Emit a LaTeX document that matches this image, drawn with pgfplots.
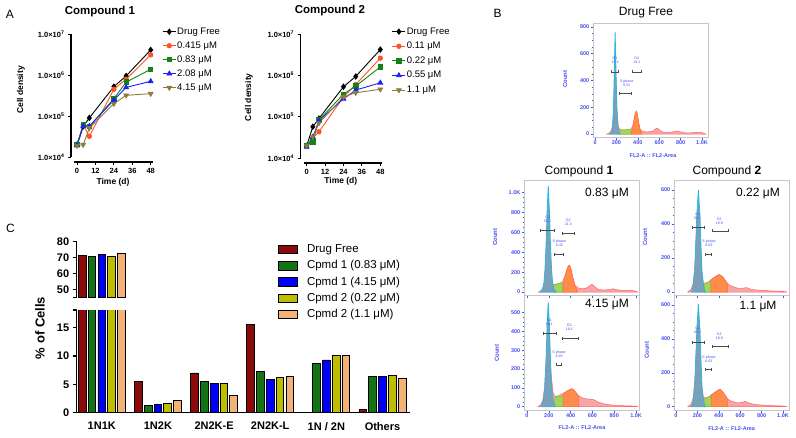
\documentclass[border=0pt]{standalone}
\usepackage{fontspec}
\setmainfont{Liberation Sans}
\usepackage{pgfplots}
\pgfplotsset{compat=1.18}
\usetikzlibrary{arrows.meta}
\definecolor{cA1}{RGB}{250,85,40}
\definecolor{cA2}{RGB}{20,130,20}
\definecolor{cA3}{RGB}{30,30,255}
\definecolor{cA4}{RGB}{140,125,60}
\definecolor{cDF}{RGB}{140,10,10}
\definecolor{cG}{RGB}{20,115,20}
\definecolor{cB}{RGB}{0,0,255}
\definecolor{cY}{RGB}{190,190,0}
\definecolor{cP}{RGB}{245,178,120}
\definecolor{flowblue}{RGB}{70,80,240}
\definecolor{hred}{RGB}{248,165,165}
\definecolor{hredl}{RGB}{255,100,100}
\definecolor{hgreen}{RGB}{160,215,90}
\definecolor{hgreenl}{RGB}{110,195,60}
\definecolor{horange}{RGB}{255,140,75}
\definecolor{horangel}{RGB}{255,110,50}
\definecolor{hgone}{RGB}{125,160,185}
\definecolor{hgonel}{RGB}{40,185,225}
\tikzset{
 hR/.style={fill=hred, draw=hredl, line width=0.5pt},
 hS/.style={fill=hgreen, draw=hgreenl, line width=0.5pt},
 hO/.style={fill=horange, draw=horangel, line width=0.5pt},
 hG/.style={fill=hgone, draw=hgonel, line width=0.8pt},
 gate/.style={draw=black!70, line width=0.6pt, arrows={Bar[width=3pt]-Bar[width=3pt]}},
 glab/.style={font=\fontsize{3.6}{4}\selectfont, text=flowblue, align=center, inner sep=0.3pt},
 blab/.style={font=\fontsize{12}{13}\selectfont},
 clab/.style={rotate=90, font=\fontsize{6}{7}\selectfont\bfseries, text=flowblue},
 xlab/.style={font=\fontsize{5.5}{6}\selectfont\bfseries, text=flowblue},
}
\pgfplotsset{
 /pgf/number format/assume math mode=true,
 flow/.style={scale only axis, width=115pt, axis line style={draw=gray!45, line width=0.7pt},
  tick align=outside, tick pos=left, major tick length=2.5pt, minor tick length=1.3pt,
  tick style={flowblue, line width=0.6pt},
  ticklabel style={font=\fontsize{5.5}{6}\selectfont\bfseries, text=flowblue, inner sep=1pt},
  xtick={0,200,400,600,800,1000}, xticklabels={0,200,400,600,800,1.0K},
  minor x tick num=3, minor y tick num=3},
 growth/.style={scale only axis, width=78.7pt,
  xmin=-2, xmax=49.3, ymin=1e4, ymax=1e7,
  axis lines*=left, axis x line shift=5pt, axis y line shift=3pt,
  axis line style={line width=1.1pt}, tick align=outside, major tick length=3pt,
  tick style={black, line width=1pt}, minor tick style={draw=none},
  xtick={0,12,24,36,48}, xticklabels={0,12,24,36,48},
  ytick={1e4,1e5,1e6,1e7},
  yticklabels={{1.0×10\textsuperscript{4}},{1.0×10\textsuperscript{5}},{1.0×10\textsuperscript{6}},{1.0×10\textsuperscript{7}}},
  ticklabel style={font=\fontsize{7.5}{8}\selectfont\bfseries},
  title style={anchor=center, font=\fontsize{11.5}{12}\selectfont\bfseries},
  xlabel style={anchor=center, font=\fontsize{8.5}{9}\selectfont\bfseries},
  ylabel style={anchor=center, font=\fontsize{8.5}{9}\selectfont\bfseries},
  legend style={at={(axis description cs:1.12,1.065)}, anchor=north west, draw=none, fill=none,
   font=\fontsize{9.5}{10}\selectfont, row sep=3pt, inner sep=0pt,
   nodes={inner sep=1pt, text height=7pt, text depth=2pt}},
  legend cell align=left,
  clip=false},
 bars/.style={scale only axis, width=333.3pt, xmin=-0.447, xmax=5.49,
  axis line style={line width=1.2pt}, tick align=outside, major tick length=4pt,
  tick style={black,line width=1.1pt},
  ticklabel style={font=\fontsize{11}{12}\selectfont\bfseries},
  ybar=2.1pt, bar width=7.7pt},
}
\begin{document}
\begin{tikzpicture}
\path[use as bounding box] (0,0) rectangle (796pt,-437pt);

% ---------------- Panel A ----------------
\node[blab] at (10pt,-14pt) {A};
\begin{axis}[ymode=log, growth, at={(74pt,-157pt)}, anchor=south west, height=123pt,
 title={Compound 1}, title style={at={(axis description cs:0.33,1.138)}},
 xlabel={Time (d)}, xlabel style={at={(axis description cs:0.496,-0.203)}},
 ylabel={Cell density}, ylabel style={at={(axis description cs:-0.673,0.545)}},
 legend image code/.code={\draw[mark repeat=2,mark phase=2,#1] plot coordinates {(0pt,0pt) (6.5pt,0pt) (13pt,0pt)};}]
\addplot[black, line width=0.9pt, mark=diamond*, mark size=2.6pt] coordinates {(0,2e4)(4,5.6e4)(8,9e4)(24,5.2e5)(32,9.5e5)(48,4.1e6)};
\addplot[cA1, line width=0.9pt, mark=*, mark size=2.2pt] coordinates {(0,2e4)(4,6e4)(8,3.2e4)(24,4.5e5)(32,7.9e5)(48,3.1e6)};
\addplot[cA2, line width=0.9pt, mark=square*, mark size=2.2pt] coordinates {(0,2e4)(4,6.2e4)(8,5.6e4)(24,2.65e5)(32,6.7e5)(48,1.38e6)};
\addplot[cA3, line width=0.9pt, mark=triangle*, mark size=2.6pt] coordinates {(0,1.9e4)(4,5.6e4)(8,5.6e4)(24,2.45e5)(32,5e5)(48,7e5)};
\addplot[cA4, line width=0.9pt, mark=triangle*, mark size=2.6pt, mark options={rotate=180}] coordinates {(0,1.9e4)(4,2e4)(8,5.1e4)(24,2e5)(32,3.2e5)(48,3.5e5)};
\legend{Drug Free,0.415 μM,0.83 μM,2.08 μM,4.15 μM}
\end{axis}

\begin{axis}[ymode=log, growth, at={(303.6pt,-158pt)}, anchor=south west, height=124pt,
 title={Compound 2}, title style={at={(axis description cs:0.335,1.145)}},
 xlabel={Time (d)}, xlabel style={at={(axis description cs:0.473,-0.191)}},
 ylabel={Cell density}, ylabel style={at={(axis description cs:-0.694,0.49)}},
 legend style={row sep=3.6pt},
 legend image code/.code={\draw[mark repeat=2,mark phase=2,#1] plot coordinates {(0pt,0pt) (6.5pt,0pt) (13pt,0pt)};}]
\addplot[black, line width=0.9pt, mark=diamond*, mark size=2.6pt] coordinates {(0,1.96e4)(4,5.7e4)(8,9e4)(24,5.3e5)(32,9.4e5)(48,4.2e6)};
\addplot[cA1, line width=0.9pt, mark=*, mark size=2.2pt] coordinates {(0,2e4)(4,3e4)(8,4.3e4)(24,3e5)(32,6e5)(48,2.6e6)};
\addplot[cA2, line width=0.9pt, mark=square*, mark size=2.2pt] coordinates {(0,2e4)(4,2.45e4)(8,8.3e4)(24,3.5e5)(32,5.5e5)(48,1.6e6)};
\addplot[cA3, line width=0.9pt, mark=triangle*, mark size=2.6pt] coordinates {(0,1.85e4)(4,3.2e4)(8,8e4)(24,2.7e5)(32,4.4e5)(48,6.6e5)};
\addplot[cA4, line width=0.9pt, mark=triangle*, mark size=2.6pt, mark options={rotate=180}] coordinates {(0,2e4)(4,3.3e4)(8,7e4)(24,3e5)(32,3.8e5)(48,4.6e5)};
\legend{Drug Free,0.11 μM,0.22 μM,0.55 μM,1.1 μM}
\end{axis}

% ---------------- Panel C ----------------
\node[blab] at (10.5pt,-228pt) {C};
\begin{axis}[bars, at={(76.7pt,-297.7pt)}, anchor=south west, height=56pt,
 ymin=44.7, ymax=80, axis x line=none, axis y line*=left,
 ytick={50,60,70,80}, yticklabels={50,60,70,80}, extra y ticks={44.7}, extra y tick labels={},
 xtick=\empty]
\addplot[fill=cDF, draw=black, line width=0.8pt] coordinates {(0,71.5)};
\addplot[fill=cG, draw=black, line width=0.8pt] coordinates {(0,71.0)};
\addplot[fill=cB, draw=black, line width=0.8pt] coordinates {(0,71.8)};
\addplot[fill=cY, draw=black, line width=0.8pt] coordinates {(0,70.6)};
\addplot[fill=cP, draw=black, line width=0.8pt] coordinates {(0,72.7)};
\end{axis}
\begin{axis}[bars, at={(76.7pt,-412.7pt)}, anchor=south west, height=102.7pt,
 ymin=0, ymax=18.1, axis lines*=left,
 ytick={0,5,10,15}, yticklabels={0,5,10,15}, extra y ticks={18.1}, extra y tick labels={},
 xtick={0,1,2,3,4,5}, xticklabels={1N1K,1N2K,2N2K-E,2N2K-L,1N / 2N,Others},
 xtick style={draw=none}, xticklabel style={yshift=-2pt},
 ylabel={\% of Cells}, ylabel style={at={(axis description cs:-0.110,0.825)}, anchor=center, font=\fontsize{13}{14}\selectfont\bfseries},
 legend style={at={(axis description cs:0.604,1.655)}, anchor=north west, draw=none, fill=none,
   font=\fontsize{11.5}{12}\selectfont, row sep=3.3pt, inner sep=0pt,
   nodes={inner sep=1pt, text height=8.5pt, text depth=2.5pt},
   /tikz/every odd column/.append style={column sep=8pt}},
 legend cell align=left,
 legend image code/.code={\draw[#1,line width=0.8pt] (0pt,-4.2pt) rectangle (19pt,4.2pt);}]
\addplot[fill=cDF, draw=black, line width=0.8pt] coordinates {(0,71.5)(1,5.5)(2,7.0)(3,15.5)(4,0)(5,0.6)};
\addplot[fill=cG, draw=black, line width=0.8pt] coordinates {(0,71.0)(1,1.3)(2,5.5)(3,7.2)(4,8.7)(5,6.4)};
\addplot[fill=cB, draw=black, line width=0.8pt] coordinates {(0,71.8)(1,1.4)(2,5.2)(3,5.9)(4,9.3)(5,6.4)};
\addplot[fill=cY, draw=black, line width=0.8pt] coordinates {(0,70.6)(1,1.6)(2,5.2)(3,6.2)(4,10.1)(5,6.6)};
\addplot[fill=cP, draw=black, line width=0.8pt] coordinates {(0,72.7)(1,2.2)(2,3.0)(3,6.35)(4,10.1)(5,6.0)};
\legend{Drug Free,Cpmd 1 (0.83 μM),Cpmd 1 (4.15 μM),Cpmd 2 (0.22 μM),Cpmd 2 (1.1 μM)}
\end{axis}

% ---------------- Panel B ----------------
\node[blab] at (497.5pt,-13.7pt) {B};
\node[blab] at (646pt,-13pt) {Drug Free};
\node[blab] at (579pt,-171pt) {Compound \textbf{1}};
\node[blab] at (727pt,-171pt) {Compound \textbf{2}};
\node[blab] at (607pt,-193pt) {0.83 μM};
\node[blab] at (607pt,-305pt) {4.15 μM};
\node[blab] at (758pt,-193pt) {0.22 μM};
\node[blab] at (758pt,-307pt) {1.1 μM};
\node[clab] at (565pt,-79pt) {Count};
\node[clab] at (495pt,-237pt) {Count};
\node[clab] at (496.7pt,-353pt) {Count};
\node[clab] at (645pt,-237pt) {Count};
\node[clab] at (646.7pt,-350pt) {Count};
\node[xlab] at (653pt,-156pt) {FL2-A :: FL2-Area};
\node[xlab] at (582pt,-428pt) {FL2-A :: FL2-Area};
\node[xlab] at (731.7pt,-428.3pt) {FL2-A :: FL2-Area};

% Drug free
\begin{axis}[flow, at={(593pt,-137pt)}, anchor=south west, height=114pt,
 xmin=-19, xmax=1056, ymin=-22, ymax=830, ytick={0,200,400,600,800}, yticklabels={0,200,400,600,800}]
\addplot[hR] coordinates {(110,0)(135,8)(150,25)(162,55)(172,150)(180,350)(188,560)(196,420)(206,180)(218,60)(232,35)(260,30)(300,31)(335,36)(352,60)(365,110)(376,155)(386,170)(396,150)(408,85)(422,35)(445,20)(480,16)(520,18)(545,24)(565,38)(580,45)(595,36)(615,20)(650,12)(700,12)(740,18)(765,22)(790,18)(830,10)(880,8)(920,11)(955,14)(990,12)(1020,5)(1035,0)} \closedcycle;
\addplot[hS] coordinates {(232,0)(234,28)(260,31)(300,33)(335,38)(345,0)} \closedcycle;
\addplot[hO] coordinates {(335,0)(345,20)(355,50)(366,105)(376,155)(386,172)(396,150)(406,95)(416,50)(428,20)(440,0)} \closedcycle;
\addplot[hG] coordinates {(140,0)(155,15)(165,70)(172,180)(178,380)(183,580)(188,760)(193,580)(198,380)(204,180)(211,70)(221,15)(236,0)} \closedcycle;
\addplot[gate] coordinates {(150,465)(224,465)};
\addplot[gate] coordinates {(343,465)(436,465)};
\addplot[gate] coordinates {(224,304)(346,304)};
\node[glab] at (axis cs:187,548) {G1\\47.3};
\node[glab] at (axis cs:390,548) {G2\\19.1};
\node[glab, fill=white] at (axis cs:296,380) {S phase\\9.21};
\end{axis}

% Compound 1, 0.83
\begin{axis}[flow, at={(524pt,-295pt)}, anchor=south west, height=115pt,
 xmin=-27.5, xmax=1027, ymin=-30, ymax=1128, xticklabels={},
 ytick={0,200,400,600,800,1000}, yticklabels={0,200,400,600,800,1.0K}]
\addplot[hR] coordinates {(105,0)(130,15)(150,50)(165,150)(180,450)(195,700)(210,450)(225,150)(240,75)(270,80)(300,85)(330,110)(350,170)(370,240)(388,270)(405,230)(420,150)(440,70)(470,40)(510,32)(545,40)(575,65)(595,78)(615,60)(650,28)(700,20)(750,25)(790,32)(830,22)(880,15)(930,18)(970,14)(1000,8)(1015,0)} \closedcycle;
\addplot[hS] coordinates {(240,0)(242,65)(260,75)(280,85)(300,85)(320,90)(330,0)} \closedcycle;
\addplot[hO] coordinates {(330,0)(335,90)(350,160)(365,225)(378,260)(388,270)(400,245)(412,180)(425,110)(440,60)(455,25)(465,0)} \closedcycle;
\addplot[hG] coordinates {(120,0)(140,20)(155,90)(165,230)(175,480)(185,830)(195,1070)(205,830)(215,480)(225,230)(235,90)(250,20)(270,0)} \closedcycle;
\addplot[gate] coordinates {(119,621)(257,621)};
\addplot[gate] coordinates {(318,594)(440,594)};
\addplot[gate] coordinates {(248,380)(333,380)};
\node[glab] at (axis cs:190,736) {G1\\53.2};
\node[glab] at (axis cs:379,705) {G2\\21.3};
\node[glab, fill=white] at (axis cs:296,488) {S phase\\6.42};
\end{axis}

% Compound 1, 4.15
\begin{axis}[flow, at={(524pt,-410pt)}, anchor=south west, height=115pt,
 xmin=-27.5, xmax=1027, ymin=-17.5, ymax=594,
 ytick={0,100,200,300,400,500}, yticklabels={0,100,200,300,400,500}]
\addplot[hR] coordinates {(100,0)(125,10)(145,35)(160,100)(175,250)(190,400)(205,350)(220,180)(240,70)(260,55)(290,58)(320,68)(350,78)(380,88)(410,95)(430,90)(450,75)(470,60)(500,48)(540,42)(580,40)(610,38)(650,25)(700,16)(750,11)(800,8)(850,6)(900,5)(950,4)(1000,3)(1015,0)} \closedcycle;
\addplot[hS] coordinates {(255,0)(257,48)(275,55)(295,56)(315,55)(330,58)(332,0)} \closedcycle;
\addplot[hO] coordinates {(330,0)(332,62)(350,72)(370,82)(390,90)(410,96)(425,92)(440,80)(455,68)(470,58)(475,0)} \closedcycle;
\addplot[hG] coordinates {(130,0)(150,30)(165,110)(175,250)(185,440)(195,555)(205,440)(215,250)(225,110)(240,30)(260,0)} \closedcycle;
\addplot[gate] coordinates {(144,390)(272,390)};
\addplot[gate] coordinates {(318,364)(471,364)};
\addplot[gate] coordinates {(266,222)(318,222)};
\node[glab] at (axis cs:205,447) {G1\\60.1};
\node[glab] at (axis cs:388,425) {G2\\18.1};
\node[glab, fill=white] at (axis cs:294,277) {S phase\\4.93};
\end{axis}

% Compound 2, 0.22
\begin{axis}[flow, at={(674pt,-295pt)}, anchor=south west, height=115pt,
 xmin=-18.7, xmax=1056, ymin=-17.6, ymax=659, xticklabels={},
 ytick={0,200,400,600}, yticklabels={0,200,400,600}]
\addplot[hR] coordinates {(110,0)(140,15)(160,50)(175,150)(190,350)(209,450)(225,300)(240,120)(255,55)(280,52)(310,62)(340,78)(370,92)(400,102)(420,98)(445,82)(470,58)(500,40)(540,30)(580,22)(620,22)(660,26)(700,16)(750,12)(800,10)(850,8)(900,6)(950,5)(1000,4)(1040,0)} \closedcycle;
\addplot[hS] coordinates {(265,0)(267,45)(285,52)(305,60)(325,70)(330,0)} \closedcycle;
\addplot[hO] coordinates {(325,0)(327,72)(350,82)(375,92)(400,102)(420,98)(440,86)(460,68)(478,52)(485,0)} \closedcycle;
\addplot[hG] coordinates {(145,0)(160,30)(175,120)(185,280)(195,460)(209,600)(223,460)(233,280)(243,120)(258,30)(273,0)} \closedcycle;
\addplot[gate] coordinates {(146,380)(271,380)};
\addplot[gate] coordinates {(333,359)(489,359)};
\addplot[gate] coordinates {(271,222)(333,222)};
\node[glab] at (axis cs:203,447) {G1\\60.1};
\node[glab] at (axis cs:405,418) {G2\\18.9};
\node[glab, fill=white] at (axis cs:308,289) {S phase\\6.03};
\end{axis}

% Compound 2, 1.1
\begin{axis}[flow, at={(674pt,-410pt)}, anchor=south west, height=115pt,
 xmin=-18.7, xmax=1056, ymin=-19.5, ymax=659,
 ytick={0,200,400,600}, yticklabels={0,200,400,600}]
\addplot[hR] coordinates {(110,0)(140,15)(160,50)(175,150)(190,350)(209,450)(225,300)(240,120)(255,55)(280,52)(310,60)(340,75)(370,88)(400,100)(420,96)(445,80)(470,55)(500,38)(540,28)(580,22)(620,26)(650,32)(680,22)(720,15)(760,12)(800,10)(850,8)(900,6)(950,5)(1000,4)(1040,0)} \closedcycle;
\addplot[hS] coordinates {(268,0)(270,50)(290,52)(310,58)(328,65)(332,0)} \closedcycle;
\addplot[hO] coordinates {(328,0)(330,66)(350,75)(375,88)(400,100)(415,102)(435,90)(455,72)(475,55)(485,0)} \closedcycle;
\addplot[hG] coordinates {(145,0)(160,30)(175,120)(185,280)(195,460)(209,605)(223,460)(233,280)(243,120)(258,30)(273,0)} \closedcycle;
\addplot[gate] coordinates {(146,380)(271,380)};
\addplot[gate] coordinates {(333,354)(489,354)};
\addplot[gate] coordinates {(271,220)(333,220)};
\node[glab] at (axis cs:203,451) {G1\\60.1};
\node[glab] at (axis cs:405,417) {G2\\18.9};
\node[glab, fill=white] at (axis cs:308,283) {S phase\\6.03};
\end{axis}
\end{tikzpicture}
\end{document}
